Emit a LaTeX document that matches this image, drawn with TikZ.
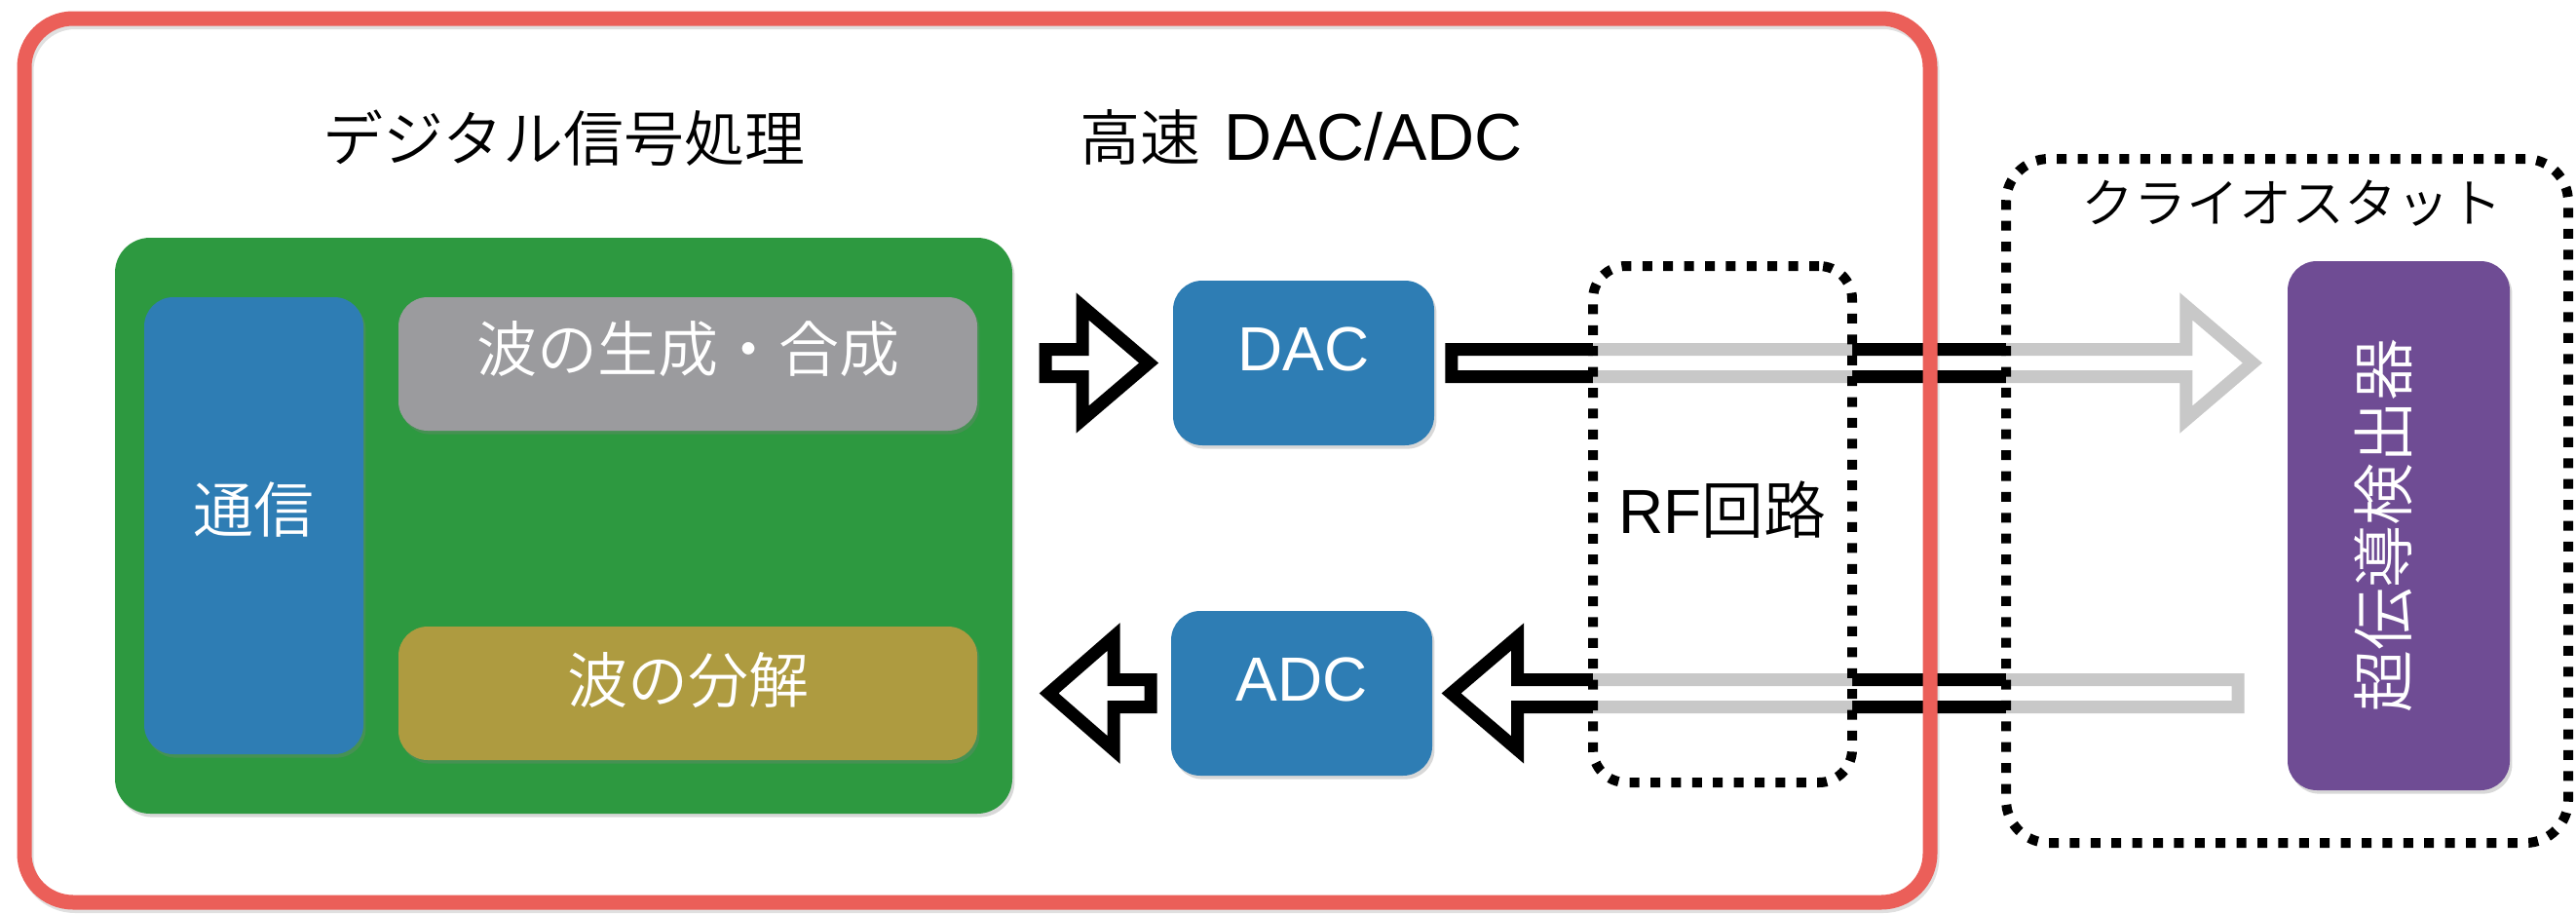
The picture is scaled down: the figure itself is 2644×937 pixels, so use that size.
\documentclass[tikz,border=0pt]{standalone}
\usepackage{fontspec}
\setmainfont{Liberation Sans}
\newfontfamily\jpfont{Noto Sans CJK JP DemiLight}
\usetikzlibrary{shadows,calc}

\definecolor{frameRed}{RGB}{235,95,89}
\definecolor{dspGreen}{RGB}{45,153,64}
\definecolor{boxBlue}{RGB}{46,125,180}
\definecolor{waveGray}{RGB}{155,155,158}
\definecolor{waveOlive}{RGB}{174,155,64}
\definecolor{detPurple}{RGB}{111,76,148}

\pgfdeclarelayer{bg}
\pgfdeclarelayer{wires}
\pgfsetlayers{bg,wires,main}

\begin{document}
\begin{tikzpicture}[x=0.5pt,y=-0.5pt,
  box/.style={rounded corners=15pt, inner sep=0pt, draw=none,
    drop shadow={shadow xshift=1.2pt, shadow yshift=-1.8pt, opacity=0.3}},
  boxtext/.style={text=white, inner sep=0pt},
  jptext/.style={font=\jpfont\fontsize{31pt}{37pt}\selectfont},
  lattext/.style={font=\fontsize{32pt}{38pt}\selectfont},
  blockarrow/.style={draw=black, line width=6.5pt, fill=white},
  dotbox/.style={draw=black, line width=5pt, dash pattern=on 5pt off 5.7pt,
    fill=white, fill opacity=0.784, draw opacity=1, inner sep=0pt},
  ringframe/.style={line width=7.5pt, rounded corners=25pt, inner sep=0pt,
    minimum width=978pt, minimum height=453.5pt},
]
\useasboundingbox (0,0) rectangle (2644,937);
\begin{pgfonlayer}{bg}
  \fill[white] (0,0) rectangle (2644,937);
\end{pgfonlayer}

% digital signal processing block
\node[box, fill=dspGreen, rounded corners=18pt, minimum width=460.5pt, minimum height=295.5pt] (dsp) at (578.5,539.5) {};
\node[box, fill=boxBlue, minimum width=112.5pt, minimum height=234.5pt] (comm) at (260.5,539.5) {};
\node[box, fill=waveGray, minimum width=297pt, minimum height=68.5pt] (synth) at (706,373.5) {};
\node[box, fill=waveOlive, minimum width=297pt, minimum height=68.5pt] (decomp) at (706,711.5) {};
\node[boxtext, jptext] (commLabel) at ([yshift=8pt]comm.center) {通信};
\node[boxtext, jptext] (synthLabel) at ([yshift=7.5pt]synth.center) {波の生成・合成};
\node[boxtext, jptext] (decompLabel) at ([yshift=6.5pt]decomp.center) {波の分解};

% converters
\node[box, fill=boxBlue, minimum width=134pt, minimum height=84.5pt] (dac) at (1338,372.5) {};
\node[box, fill=boxBlue, minimum width=134pt, minimum height=84.5pt] (adc) at (1336,711.5) {};
\node[boxtext, lattext] (dacLabel) at ([yshift=7pt]dac.center) {DAC};
\node[boxtext, lattext] (adcLabel) at ([yshift=7pt]adc.center) {ADC};

% RF circuit and cryostat (translucent, so the lines behind them fade)
\node[dotbox, rounded corners=17pt, minimum width=133pt, minimum height=265pt] (rf) at (1768,538) {};
\node[lattext, inner sep=0pt] (rfLabel) at ([yshift=7.5pt]rf.center) {RF{\jpfont 回路}};
\node[dotbox, rounded corners=22pt, minimum width=288.5pt, minimum height=351pt] (cryo) at (2347.5,514) {};
\node[font=\jpfont\fontsize{27pt}{32pt}\selectfont, inner sep=0pt] (cryoLabel) at (2352,209) {クライオスタット};

% detector
\node[box, fill=detPurple, minimum width=114pt, minimum height=271.5pt] (det) at (2462,539.5) {};
\node[boxtext, font=\jpfont\fontsize{32pt}{38pt}\selectfont, rotate=90] (detLabel) at ([xshift=-8pt]det.center) {超伝導検出器};

% outer frame
\node[ringframe, draw=black, draw opacity=0.12] (frameShade) at (1005,476) {};
\node[ringframe, draw=frameRed] (fpga) at (1003,472.5) {};

% titles
\node[jptext, inner sep=0pt] (dspTitle) at (579,142) {デジタル信号処理};
\node[inner sep=0pt] (convTitle) at (1336,141) {{\jpfont\fontsize{31pt}{37pt}\selectfont 高速}\hspace{12pt}{\fontsize{34pt}{40pt}\selectfont DAC/ADC}};

% hollow block arrows
\begin{pgfonlayer}{wires}
  \coordinate (inTail) at ($(dac.west)+(-130.5,0)$);
  \coordinate (txTail) at ($(dac.east)+(17.5,0)$);
  \coordinate (rxTail) at ($(det.west |- adc.center)+(-50.5,0)$);
  \coordinate (outTail) at ($(adc.west)+(-20.5,0)$);
  \draw[blockarrow] (inTail) ++(0,-14) -- ++(38,0) -- ++(0,-44) -- ++(68,58)
    -- ++(-68,58) -- ++(0,-44) -- ++(-38,0) -- cycle;
  \draw[blockarrow] (txTail) ++(0,-14) -- ++(754,0) -- ++(0,-44) -- ++(68,58)
    -- ++(-68,58) -- ++(0,-44) -- ++(-754,0) -- cycle;
  \draw[blockarrow] (rxTail) ++(0,-14) -- ++(-739.5,0) -- ++(0,-44) -- ++(-68,58)
    -- ++(68,58) -- ++(0,-44) -- ++(739.5,0) -- cycle;
  \draw[blockarrow] (outTail) ++(0,-14) -- ++(-38,0) -- ++(0,-44) -- ++(-66.5,58)
    -- ++(66.5,58) -- ++(0,-44) -- ++(38,0) -- cycle;
\end{pgfonlayer}
\end{tikzpicture}
\end{document}
